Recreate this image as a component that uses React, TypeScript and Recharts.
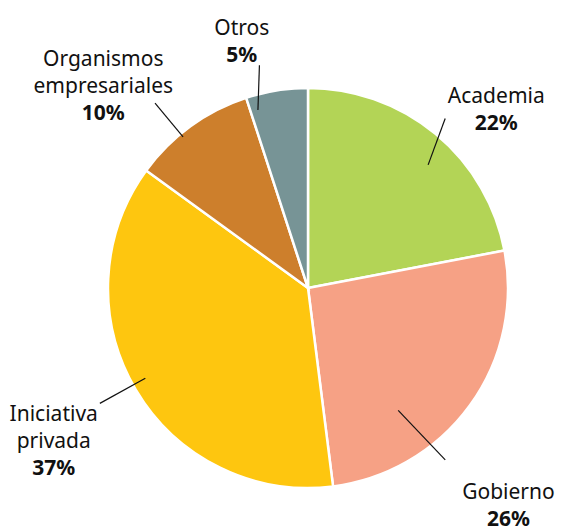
import { Pie, PieChart, Cell } from "recharts";

const SECTORS = ["Academia", "Gobierno", "Iniciativa privada", "Organismos empresariales", "Otros"];
const SHARES = [22, 26, 37, 10, 5];
const COLORS = ["#b3d456", "#f6a185", "#fec60f", "#cd7f2c", "#779496"];
// label text broken into lines as printed
const LABEL_LINES = [["Academia"], ["Gobierno"], ["Iniciativa", "privada"], ["Organismos", "empresariales"], ["Otros"]];

// leader placement per slice: angles in degrees, radii as fraction of outer radius
const LEADERS = [
  { a1: 45.7, r1: 0.86, a2: 51.0, r2: 1.09, ta: 43.6, tr: 1.3 },
  { a1: -53.6, r1: 0.76, a2: -51.4, r2: 1.1, ta: -47.2, tr: 1.475 },
  { a1: 209, r1: 0.93, a2: 209, r2: 1.19, ta: 210.8, tr: 1.48 },
  { a1: 129.6, r1: 0.98, a2: 129.6, r2: 1.2, ta: 135.3, tr: 1.44 },
  { a1: 105.7, r1: 0.925, a2: 102.3, r2: 1.14, ta: 105, tr: 1.28 },
];

const data = SECTORS.map((name, i) => ({ name, value: SHARES[i] }));
const RAD = Math.PI / 180;
const FONT = "'Noto Sans', sans-serif";

function renderLabel(props: any) {
  const { cx, cy, outerRadius, index } = props;
  const L = LEADERS[index];
  const pt = (a: number, r: number) => [cx + r * outerRadius * Math.cos(a * RAD), cy - r * outerRadius * Math.sin(a * RAD)];
  const [x1, y1] = pt(L.a1, L.r1);
  const [x2, y2] = pt(L.a2, L.r2);
  const [tx, ty] = pt(L.ta, L.tr);
  const lines = LABEL_LINES[index];
  const lh = 27;
  const total = lines.length + 1;
  const top = ty - ((total - 1) * lh) / 2;
  return (
    <g key={`lbl-${index}`}>
      <line x1={x1} y1={y1} x2={x2} y2={y2} stroke="#111" strokeWidth={1.2} />
      <text textAnchor="middle" fontFamily={FONT} fontSize={21} fill="#111">
        {lines.map((t, k) => (
          <tspan key={k} x={tx} y={top + k * lh} dominantBaseline="central">
            {t}
          </tspan>
        ))}
        <tspan x={tx} y={top + lines.length * lh} dominantBaseline="central" fontWeight="bold">
          {SHARES[index]}%
        </tspan>
      </text>
    </g>
  );
}

export default function App() {
  return (
    <div style={{ background: "#fff", width: 563, height: 531 }}>
      <style>{"body{margin:0}"}</style>
      <PieChart width={563} height={531} margin={{ top: 0, right: 0, bottom: 0, left: 0 }}>
        <Pie
          data={data}
          dataKey="value"
          nameKey="name"
          cx={308}
          cy={288}
          outerRadius={200}
          startAngle={90}
          endAngle={-270}
          stroke="#fff"
          strokeWidth={2.5}
          label={renderLabel}
          labelLine={false}
          isAnimationActive={false}
        >
          {data.map((d, i) => (
            <Cell key={d.name} fill={COLORS[i]} />
          ))}
        </Pie>
      </PieChart>
    </div>
  );
}
